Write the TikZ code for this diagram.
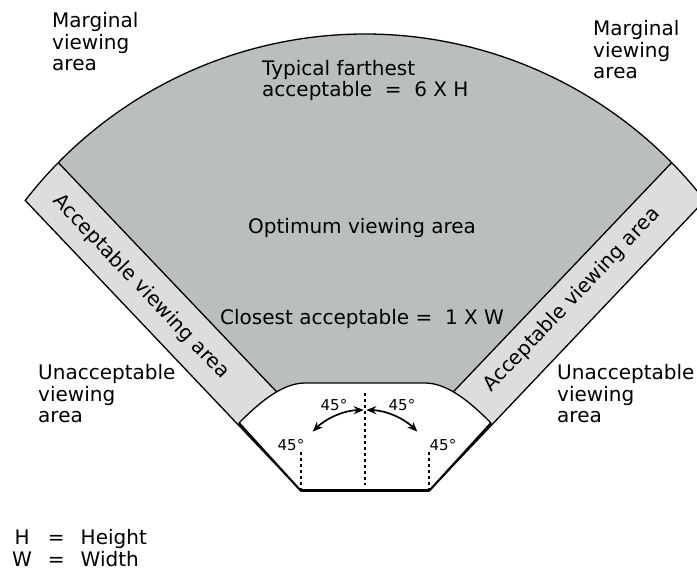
\documentclass[tikz,border=0pt]{standalone}
\usepackage{fontspec}
\setmainfont{DejaVu Sans}
\usetikzlibrary{arrows.meta,calc}
\definecolor{optgray}{RGB}{186,191,190}
\definecolor{bandgray}{RGB}{221,221,221}

\begin{document}
\begin{tikzpicture}[x=1pt,y=1pt]
	\tikzstyle{areatext}=[font=\fontsize{20}{21.5}\selectfont,align=left,inner sep=0pt,anchor=base west]
	\tikzstyle{bandtext}=[font=\fontsize{20}{21.5}\selectfont,inner sep=0pt]
	\tikzstyle{angtext}=[font=\fontsize{15}{16}\selectfont,inner sep=0pt]
	\tikzstyle{edge}=[line width=1.3pt]
	\tikzstyle{sight}=[line width=1.4pt,dash pattern=on 3pt off 3pt]
	\tikzstyle{swing}=[line width=1.7pt,{Stealth[length=10pt,width=8pt]}-{Stealth[length=10pt,width=8pt]}]

	\useasboundingbox (0,0) rectangle (697,570);
	\clip (0,0) rectangle (697,570);

	% geometry
	\coordinate (c) at (365,106);
	\coordinate (f) at (365,86);
	\coordinate (sl) at (301,79);
	\coordinate (sr) at (429,79);
	\coordinate (wl) at (239,147);
	\coordinate (wr) at (491,147);
	\coordinate (ol) at ($(c)+(142.2:430)$);
	\coordinate (il) at ($(c)+(135.5:430)$);
	\coordinate (ir) at ($(c)+(44.5:430)$);
	\coordinate (gl) at (313,140);
	\coordinate (gr) at (417,140);

	% acceptable band (whole fan)
	\fill[bandgray] (sl) -- (ol) arc[start angle=142.2,end angle=37.8,radius=430] -- (sr) -- cycle;

	% optimum area
	\fill[optgray] (il) arc[start angle=135.5,end angle=44.5,radius=430] -- (gr) -- (gl) -- cycle;
	\draw[edge] (il) -- (gl);
	\draw[edge] (ir) -- (gr);

	% area in front of the screen
	\fill[white] (sl) -- (wl) .. controls (255,163) and (280,187) .. (305,187) -- (425,187) .. controls (450,187) and (475,163) .. (wr) -- (sr) -- cycle;
	\draw[edge] (wl) .. controls (255,163) and (280,187) .. (305,187) -- (425,187) .. controls (450,187) and (475,163) .. (wr);
	\draw[line width=2pt] (wl) -- (sl);
	\draw[line width=2pt] (wr) -- (sr);

	% outline
	\draw[edge] (sl) -- (ol) arc[start angle=142.2,end angle=37.8,radius=430] -- (sr);
	\draw[line width=3pt] (sl) -- (sr);

	% sight lines
	\draw[sight] (365,177) -- (365,85);
	\draw[sight] (sl) -- ++(0,40);
	\draw[sight] (sr) -- ++(0,40);
	\draw[swing] ($(f)+(91:74)$) arc[start angle=91,end angle=135,radius=74];
	\draw[swing] ($(f)+(89:74)$) arc[start angle=89,end angle=45,radius=74];

	\node[angtext] (a1) at (334,165) {45°};
	\node[angtext] (a2) at (402,165) {45°};
	\node[angtext] (a3) at (291,125) {45°};
	\node[angtext] (a4) at (443,125) {45°};

	% labels
	\node[areatext] (mleft) at (52,499) {Marginal\\viewing\\area};
	\node[areatext] (mright) at (593,491) {Marginal\\viewing\\area};
	\node[areatext] (far) at (262,473) {Typical farthest\\acceptable~~=~~6 X H};
	\node[areatext] (opt) at (248,336) {Optimum viewing area};
	\node[areatext] (close) at (220,245) {Closest acceptable~=~~1 X W};
	\node[areatext] (uleft) at (38,147) {Unacceptable\\viewing\\area};
	\node[areatext] (uright) at (557,147) {Unacceptable\\viewing\\area};
	\node[bandtext,rotate=-46.4] (bleft) at (141,283) {Acceptable viewing area};
	\node[bandtext,rotate=46.4] (bright) at (572,270) {Acceptable viewing area};

	% key
	\node[areatext] (key) at (12,25) {\begin{tabular}[t]{@{}c@{\hspace{16pt}}c@{\hspace{16pt}}l@{}}H&=&Height\\W&=&Width\end{tabular}};
\end{tikzpicture}
\end{document}
